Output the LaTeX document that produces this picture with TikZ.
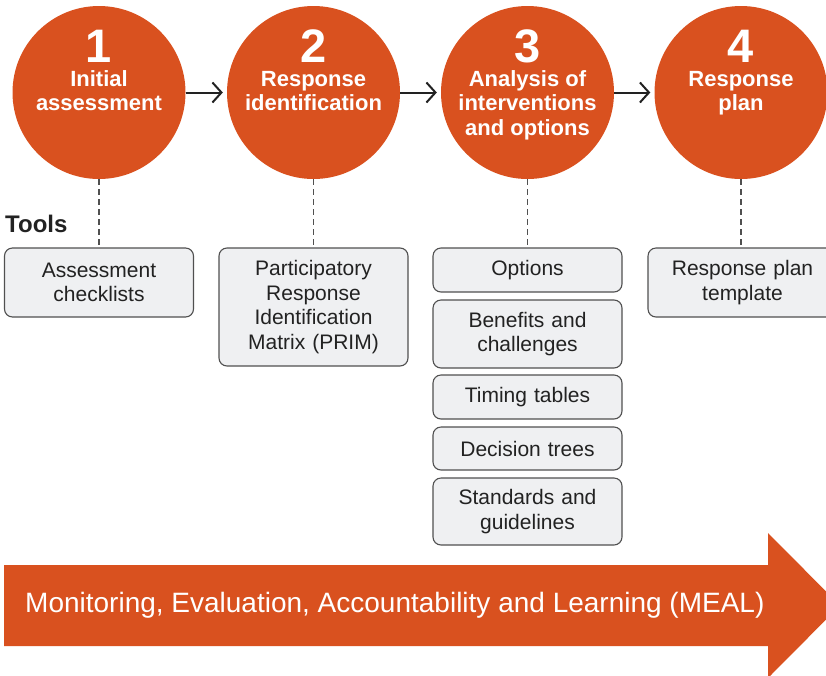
\documentclass[tikz,border=0pt]{standalone}
\usepackage{fontspec}
\setmainfont{Liberation Sans}
\usepackage{tikz}
\usetikzlibrary{arrows.meta}

\definecolor{mealorange}{RGB}{217,81,31}
\definecolor{toolfill}{RGB}{239,240,242}
\definecolor{toolline}{RGB}{80,80,80}
\definecolor{darktext}{RGB}{34,34,34}

\begin{document}
\begin{tikzpicture}[x=1pt,y=-1pt]
			\tikzset{stage/.style = {shape=circle,fill=mealorange,minimum size=173pt,inner sep=0pt}}
			\tikzset{stagenum/.style = {text=white,font=\bfseries\fontsize{47}{47}\selectfont,anchor=base}}
			\tikzset{stagetext/.style = {text=white,align=center,font=\bfseries\fontsize{22}{24.5}\selectfont,anchor=base}}
			\tikzset{tool/.style = {shape=rectangle,rounded corners=8pt,draw=toolline,line width=1.1pt,fill=toolfill,
				text=darktext,text width=180pt,minimum width=189pt,align=center,inner sep=0pt,
				font=\fontsize{21}{24.5}\selectfont}}
			\tikzset{flow/.style = {-{Straight Barb[length=9pt,width=20pt,line width=2pt]},line width=2pt,darktext,shorten >=4pt}}
			\tikzset{link/.style = {dash pattern=on 6pt off 4pt,line width=1.1pt,toolline}}
			\path[use as bounding box,clip] (0,0) rectangle (826,675);
			% stages
			\node[stage] (c1) at (99,92.5) {};
			\node[stage] (c2) at (313.5,92.5) {};
			\node[stage] (c3) at (527.5,92.5) {};
			\node[stage] (c4) at (741,92.5) {};
			\node[stagenum] (n1) at (99,62) {1};
			\node[stagenum] (n2) at (313.5,62) {2};
			\node[stagenum] (n3) at (527.5,62) {3};
			\node[stagenum] (n4) at (741,62) {4};
			% (base = last line)
			\node[stagetext] (t1) at (99,110.5) {Initial\\assessment};
			\node[stagetext] (t2) at (313.5,110.5) {Response\\identification};
			\node[stagetext] (t3) at (527.5,135) {Analysis of\\interventions\\and options};
			\node[stagetext] (t4) at (741,110.5) {Response\\plan};
			% tools
			\node[anchor=base west,text=darktext,font=\bfseries\fontsize{24}{24}\selectfont,inner sep=0pt] (tools) at (5,232) {Tools};
			\node[tool,minimum height=69pt] (b1) at (99,282.5) {Assessment\\checklists};
			\node[tool,minimum height=118pt] (b2) at (313.5,307) {Participatory\\Response\\Identification\\Matrix (PRIM)};
			\node[tool,minimum height=44pt] (o1) at (527.5,270) {Options};
			\node[tool,minimum height=68pt] (o2) at (527.5,334) {Benefits and\\challenges};
			\node[tool,minimum height=44pt] (o3) at (527.5,397) {Timing tables};
			\node[tool,minimum height=43pt] (o4) at (527.5,448.5) {Decision trees};
			\node[tool,minimum height=67pt] (o5) at (527.5,511.5) {Standards and\\guidelines};
			\node[tool,minimum height=69pt] (b4) at (742.5,282.5) {Response plan\\template};
			% edges
			\draw[flow] (c1) -- (c2);
			\draw[flow] (c2) -- (c3);
			\draw[flow] (c3) -- (c4);
			\draw[link] (c1.south) -- (b1.north);
			\draw[link] (c2.south) -- (b2.north);
			\draw[link] (c3.south) -- (o1.north);
			\draw[link] (c4.south) -- (b4.north -| c4.south);
			% MEAL arrow
			\fill[mealorange] (4,565) -- (768,565) -- (768,533) -- (840,605.5) -- (768,678) -- (768,646) -- (4,646) -- cycle;
			\node[anchor=base west,text=white,font=\fontsize{28}{28}\selectfont,inner sep=0pt] (meal) at (25,612)
				{Monitoring, Evaluation, Accountability and Learning (MEAL)};
		\end{tikzpicture}
\end{document}
